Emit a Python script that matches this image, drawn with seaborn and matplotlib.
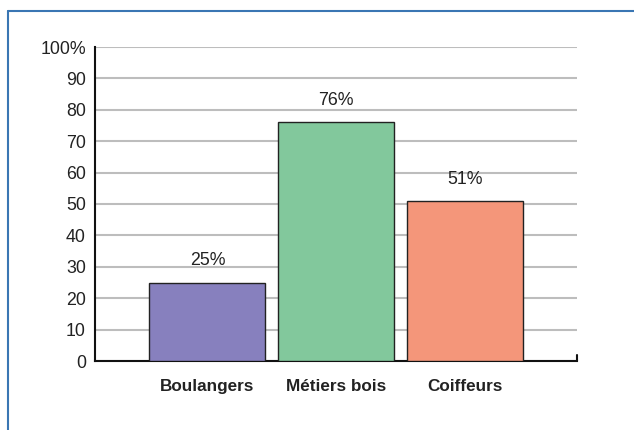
import matplotlib
matplotlib.use("Agg")
import matplotlib.pyplot as plt
import seaborn as sns
import pandas as pd
from matplotlib.lines import Line2D

categories = ["Boulangers", "Métiers bois", "Coiffeurs"]
values = [25, 76, 51]
colors = ["#8780BE", "#82C89C", "#F4967A"]
yticks = [0, 10, 20, 30, 40, 50, 60, 70, 80, 90, 100]
yticklabels = ["0", "10", "20", "30", "40", "50", "60", "70", "80", "90", "100%"]

sns.set_theme(style="white")
plt.rcParams['font.family'] = ['Liberation Sans', 'DejaVu Sans']

df = pd.DataFrame({"cat": categories, "val": values})

fig = plt.figure(figsize=(6.34, 4.30), dpi=100)
ax = fig.add_axes([95/634, 1 - 361/430, (577 - 95)/634, (361 - 47)/430])

sns.barplot(data=df, x="cat", y="val", hue="cat", palette=colors, legend=False,
            width=0.9, edgecolor="#222222", linewidth=1.0, ax=ax, zorder=3, saturation=1)

ax.set_xlim(-0.872, 2.868)
ax.set_ylim(0, 100)
ax.set_yticks(yticks)
ax.set_yticklabels(yticklabels, fontsize=12.8, color="#222222")
ax.yaxis.grid(True, color="#BDBDBD", linewidth=1.5, zorder=0)
ax.set_axisbelow(True)
ax.set_xlabel("")
ax.set_ylabel("")
for lab in ax.get_xticklabels():
    lab.set_fontweight("bold")
    lab.set_fontsize(12.3)
    lab.set_color("#222222")
ax.tick_params(axis="x", length=0, pad=13)
ax.tick_params(axis="y", length=0, pad=6.5)

for s in ["top", "right"]:
    ax.spines[s].set_visible(False)
for s in ["left", "bottom"]:
    ax.spines[s].set_color("#111111")
    ax.spines[s].set_linewidth(1.5)

# small end tick at right of baseline
ax.plot([1, 1], [0, 0.02], transform=ax.transAxes, color="#111111", lw=1.5, clip_on=False)

for i, v in enumerate(values):
    ax.annotate(f"{v}%", (i, v), xytext=(0, 9.5), textcoords="offset points",
                ha="center", va="bottom", fontsize=12.8, color="#222222")

# blue frame lines
fig.add_artist(Line2D([8/634, 1], [1 - 11/430, 1 - 11/430], color="#3A76B3", lw=1.5))
fig.add_artist(Line2D([8/634, 8/634], [0, 1 - 11/430], color="#3A76B3", lw=1.5))

fig.savefig("out.png", dpi=100, facecolor="white")
